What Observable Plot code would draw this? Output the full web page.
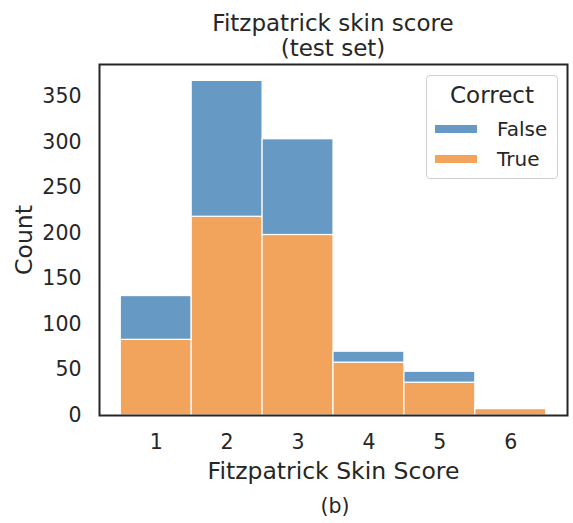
<!DOCTYPE html>
<html>
<head>
<meta charset="utf-8">
<script src="https://cdn.jsdelivr.net/npm/d3@7"></script>
<script src="https://cdn.jsdelivr.net/npm/@observablehq/plot@0.6"></script>
<style>
  html, body { margin: 0; padding: 0; background: #fff; }
  body { width: 573px; height: 523px; overflow: hidden; font-family: "DejaVu Sans", sans-serif; color: #262626; }
  #wrap { position: relative; width: 573px; height: 523px; }
  #title { position: absolute; left: 99px; width: 468px; top: 11px; text-align: center; font-size: 23px; line-height: 25px; }
  #chart { position: absolute; left: 0; top: 60px; }
  #caption { position: absolute; left: 99px; width: 472px; top: 494px; text-align: center; font-size: 20.5px; line-height: 24px; }
  #legend { position: absolute; left: 426px; top: 75px; width: 130px; height: 102px; border: 1px solid #d0d0d0; border-radius: 4px; background: rgba(255,255,255,0.8); box-sizing: content-box; font-size: 20px; }
  #legend .ttl { position: absolute; left: 0; width: 130px; top: 6px; text-align: center; line-height: 26px; font-size: 23px; }
  #legend .row { position: absolute; left: 8px; height: 26px; line-height: 26px; }
  #legend .sw { position: absolute; left: 0; top: 9px; width: 42px; height: 8px; }
  #legend .lab { position: absolute; left: 62px; top: 0; white-space: nowrap; }
</style>
</head>
<body>
<div id="wrap">
  <div id="title">Fitzpatrick skin score<br>(test set)</div>
  <div id="chart"></div>
  <div id="legend"></div>
  <div id="caption">(b)</div>
</div>
<script>
const scores = [1, 2, 3, 4, 5, 6];
const trueCounts = [83, 218, 198, 58, 36, 7];
const falseCounts = [48, 149, 105, 12, 12, 0];
const colors = {"False": "#6699c4", "True": "#f2a45c"};
const yTicks = [0, 50, 100, 150, 200, 250, 300, 350];

const rows = [];
scores.forEach((s, i) => {
  const t = trueCounts[i], f = falseCounts[i];
  rows.push({score: s, correct: "True", y1: 0, y2: t});
  rows.push({score: s, correct: "False", y1: t, y2: t + f});
});

const plot = Plot.plot({
  width: 573,
  height: 425,
  marginTop: 4,
  marginBottom: 70,
  marginLeft: 99,
  marginRight: 6,
  style: {fontFamily: "DejaVu Sans, sans-serif", fontSize: "20.5px", color: "#262626", background: "white"},
  x: {domain: [0.2, 6.8], ticks: scores, tickFormat: d => String(d), tickSize: 0, tickPadding: 19, label: "Fitzpatrick Skin Score", labelArrow: false, labelAnchor: "center", labelOffset: 63},
  y: {domain: [0, 385], ticks: yTicks, tickSize: 0, tickPadding: 18, label: "Count", labelArrow: false, labelAnchor: "center", labelOffset: 84},
  color: {domain: ["False", "True"], range: [colors.False, colors.True]},
  marks: [
    Plot.rect(rows.filter(d => d.y2 > d.y1), {
      x1: d => d.score - 0.5, x2: d => d.score + 0.5,
      y1: "y1", y2: "y2",
      fill: "correct", stroke: "white", strokeWidth: 1.2
    }),
    Plot.frame({stroke: "#262626", strokeWidth: 2})
  ]
});
plot.querySelectorAll("[aria-label='x-axis label'], [aria-label='y-axis label']").forEach(g => {
  g.setAttribute("font-size", "23.5px");
  g.querySelectorAll("text").forEach(t => t.setAttribute("font-size", "23.5px"));
});
document.getElementById("chart").appendChild(plot);

const leg = document.getElementById("legend");
leg.innerHTML = `<div class="ttl">Correct</div>` +
  ["False", "True"].map((k, i) => `<div class="row" style="top:${40 + i * 30}px"><div class="sw" style="background:${colors[k]}"></div><div class="lab">${k}</div></div>`).join("");
</script>
</body>
</html>
